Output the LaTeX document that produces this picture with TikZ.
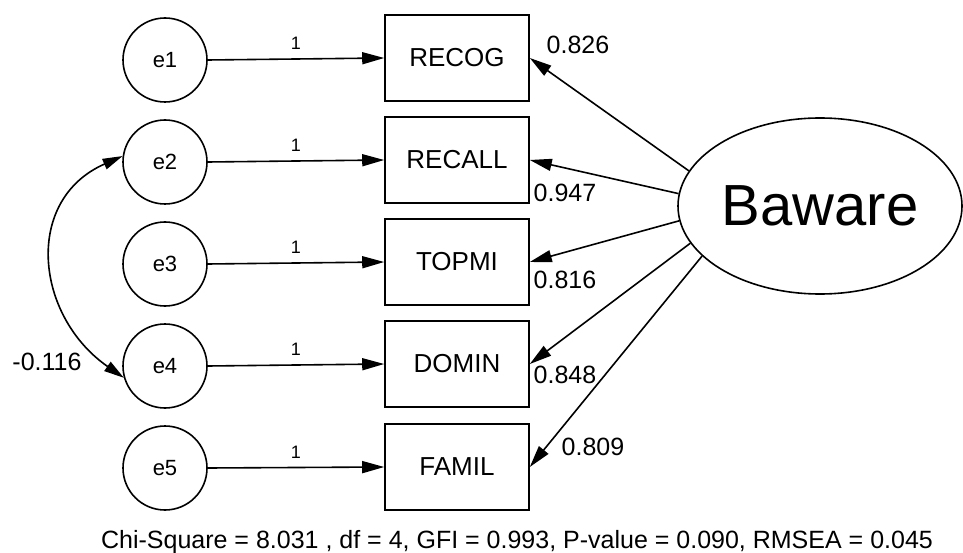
\documentclass[tikz,border=0pt]{standalone}
\usepackage{fontspec}
\setmainfont{Liberation Sans}
\usetikzlibrary{arrows.meta,shapes.geometric}
\begin{document}
\begin{tikzpicture}[x=1pt,y=-1pt,
  err/.style={draw,circle,line width=1.6pt,minimum size=84pt,inner sep=0pt,font=\fontsize{22}{22}\selectfont},
  obs/.style={draw,rectangle,line width=1.6pt,minimum width=144pt,minimum height=86pt,inner sep=0pt,font=\fontsize{26}{26}\selectfont},
  lat/.style={draw,ellipse,line width=1.6pt,minimum width=284pt,minimum height=176pt,inner sep=0pt,font=\fontsize{58}{58}\selectfont},
  arr/.style={line width=1.6pt,-{Triangle[length=22pt,width=12pt]}},
  biarr/.style={line width=1.6pt,{Triangle[length=20pt,width=11pt]}-{Triangle[length=20pt,width=11pt]}},
  one/.style={font=\fontsize{18}{18}\selectfont,above=5pt,midway},
  coef/.style={font=\fontsize{25}{25}\selectfont,inner sep=0pt}]
\useasboundingbox (0,0) rectangle (963,553);
% error terms
\node[err] (e1) at (165,60) {e1};
\node[err] (e2) at (165,162) {e2};
\node[err] (e3) at (165,264) {e3};
\node[err] (e4) at (165,366) {e4};
\node[err] (e5) at (165,468) {e5};
% observed variables
\node[obs] (b1) at (457,58) {RECOG};
\node[obs] (b2) at (457,160) {RECALL};
\node[obs] (b3) at (457,262) {TOPMI};
\node[obs] (b4) at (457,364) {DOMIN};
\node[obs] (b5) at (457,467) {FAMIL};
% latent
\node[lat] (B) at (820,206) {Baware};
% error paths
\draw[arr] (e1.east) -- node[one] {1} (b1.west);
\draw[arr] (e2.east) -- node[one] {1} (b2.west);
\draw[arr] (e3.east) -- node[one] {1} (b3.west);
\draw[arr] (e4.east) -- node[one] {1} (b4.west);
\draw[arr] (e5.east) -- node[one] {1} (b5.west);
% loadings
\draw[arr] (B.165.6) -- (b1.east);
\draw[arr] (B.175.5) -- (b2.east);
\draw[arr] (B.186.4) -- (b3.east);
\draw[arr] (B.196.7) -- (b4.east);
\draw[arr] (B.203.5) -- (b5.east);
\node[coef] (c1) at (578,45) {0.826};
\node[coef] (c2) at (565,193) {0.947};
\node[coef] (c3) at (565,280) {0.816};
\node[coef] (c4) at (565,375) {0.848};
\node[coef] (c5) at (593,447) {0.809};
% covariance
\draw[biarr] (e2.172) .. controls (23,200) and (35,316) .. (e4.196);
\node[coef] (cov) at (47,362) {-0.116};
% fit statistics
\node[font=\fontsize{25}{25}\selectfont,inner sep=0pt] (fit) at (517,542) {Chi-Square = 8.031 , df = 4, GFI = 0.993, P-value = 0.090, RMSEA = 0.045};
\end{tikzpicture}
\end{document}
